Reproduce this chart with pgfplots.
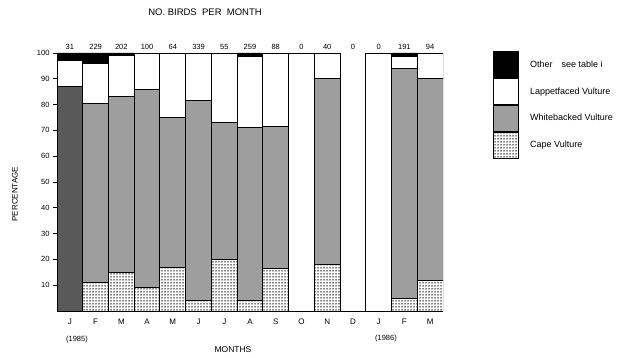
\documentclass[border=0pt]{standalone}
\usepackage{pgfplots}
\pgfplotsset{compat=1.18}
\usepackage{pgfplotstable}
\usepackage{fontspec}
\setmainfont{Liberation Sans}
\usetikzlibrary{patterns,patterns.meta}

\pgfplotstableread{
x cape wbdark wb lf other empty
0 0 87 0 10 3 0
1 11 0 69.5 15.5 4 0
2 15 0 68 16 1 0
3 9 0 77 14 0 0
4 17 0 58 25 0 0
5 4 0 77.5 18.5 0 0
6 20 0 53 27 0 0
7 4 0 67 27.5 1.5 0
8 16.5 0 55 28.5 0 0
9 0 0 0 0 0 100
10 18 0 72 10 0 0
11 0 0 0 0 0 0
12 0 0 0 0 0 100
13 5 0 89 4.5 1.5 0
14 12 0 78 10 0 0
}\data

\newcommand{\tf}{\fontsize{7.5}{9}\selectfont}
\tikzset{legimg/.style={/pgfplots/legend image code/.code={\draw[##1,line width=0.9pt] (0pt,-13pt) rectangle (25pt,13pt);}}}

\begin{document}
\begin{tikzpicture}
\useasboundingbox (0,0) rectangle (625pt,358pt);
\begin{axis}[
  at={(57pt,47pt)}, anchor=south west, scale only axis,
  width=386pt, height=258pt,
  xmin=-0.5, xmax=14.5, ymin=0, ymax=100,
  ybar stacked, bar width=25.73pt,
  axis x line*=bottom, axis y line*=left,
  axis line style={-, line width=0.9pt},
  tick align=outside, major tick length=4pt,
  ytick={10,20,...,100},
  xtick={0,...,14},
  xticklabels={J,F,M,A,M,J,J,A,S,O,N,D,J,F,M},
  x tick style={draw=none},
  y tick style={line width=0.7pt, black},
  tick label style={font=\tf},
  xticklabel style={font=\fontsize{8}{9}\selectfont},
  /pgf/number format/assume math mode=true,
  ylabel={PERCENTAGE},
  ylabel style={at={(-0.109,0.453)}, anchor=center, font=\fontsize{8}{9}\selectfont},
  reverse legend,
  legend cell align=left,
  legend style={at={(1.1295,1.0078)}, anchor=north west, draw=none, fill=none,
    inner sep=0pt, row sep=0pt, column sep=11pt,
    nodes={inner sep=0pt, font=\fontsize{9}{10}\selectfont}},
]
\addplot[legimg, draw=black, line width=0.9pt, pattern={Dots[distance=3pt, radius=0.75pt]}, pattern color=black] table[x=x,y=cape] {\data};
\addplot[legimg, draw=black, line width=0.9pt, fill=black!65] table[x=x,y=wbdark] {\data};
\addplot[legimg, draw=black, line width=0.9pt, fill=black!38] table[x=x,y=wb] {\data};
\addplot[legimg, draw=black, line width=0.9pt, fill=white] table[x=x,y=lf] {\data};
\addplot[legimg, draw=black, line width=0.9pt, fill=black] table[x=x,y=other] {\data};
\addplot[legimg, draw=black, line width=0.9pt, fill=white] table[x=x,y=empty] {\data};
\legend{Cape Vulture,,Whitebacked Vulture,Lappetfaced Vulture,Other\quad see table i,}
\end{axis}
\begin{axis}[
  at={(57pt,47pt)}, anchor=south west, scale only axis,
  width=386pt, height=258pt,
  xmin=-0.5, xmax=14.5, ymin=0, ymax=100,
  hide y axis, axis x line*=top, x axis line style={draw=none},
  xtick={0,...,14},
  xticklabels={31,229,202,100,64,339,55,259,88,0,40,0,0,191,94},
  x tick style={draw=none},
  tick label style={font=\tf},
  /pgf/number format/assume math mode=true,
]
\addplot[draw=none] coordinates {(0,0)};
\end{axis}
\node[font=\fontsize{9.5}{11}\selectfont] at (205pt,346pt) {NO.\ BIRDS\ \ PER\ \ MONTH};
\node[font=\fontsize{8.5}{10}\selectfont] at (233pt,8pt) {MONTHS};
\node[font=\tf] at (77pt,18pt) {(1985)};
\node[font=\tf] at (386pt,19pt) {(1986)};
\end{tikzpicture}
\end{document}
